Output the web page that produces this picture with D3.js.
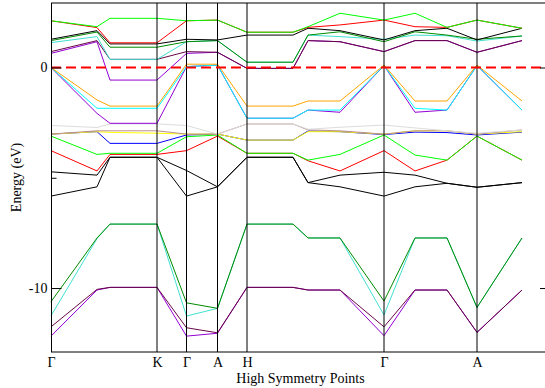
<!DOCTYPE html>
<html>
<head>
<meta charset="utf-8">
<script src="https://cdn.jsdelivr.net/npm/d3@7"></script>
<style>
  body { margin: 0; background: #fff; }
  svg { display: block; font-family: "Liberation Serif", "Times New Roman", serif; }
</style>
</head>
<body>
<svg width="545" height="388"></svg>
<script>
// k-path distances (arbitrary units) of the sampled points
const kPath = [0, 0.46, 0.59, 1.06, 1.355, 1.665, 1.96, 2.42, 2.57, 2.89, 3.33, 3.64, 3.96, 4.26, 4.71]
const symPos = [0, 1.06, 1.355, 1.665, 1.96, 3.33, 4.26]
const symLabels = ['Γ', 'K', 'Γ', 'A', 'H', 'Γ', 'A']
const yMajor = [0, -10]
const yMinor = [-5]

// band energies (eV), lowest band first
const band01 = [-12.18, -10.09, -9.97, -9.97, -12.18, -12.05, -9.97, -9.97, -10.09, -10.09, -12.16, -10.09, -10.09, -12.01, -10.09]
const band02 = [-11.76, -10.06, -9.97, -9.97, -11.80, -12.03, -9.97, -9.97, -10.09, -10.09, -11.76, -10.09, -10.09, -12.01, -10.09]
const band03 = [-11.26, -7.76, -7.10, -7.10, -11.27, -10.92, -7.10, -7.10, -7.73, -7.73, -11.22, -7.73, -7.73, -10.88, -7.73]
const band04 = [-10.62, -7.73, -7.10, -7.10, -10.67, -10.92, -7.10, -7.10, -7.73, -7.73, -10.59, -7.73, -7.73, -10.88, -7.73]
const band05 = [-5.83, -5.41, -4.07, -4.07, -5.83, -5.41, -4.07, -4.07, -5.22, -5.41, -5.83, -5.41, -5.25, -5.43, -5.22]
const band06 = [-4.73, -4.88, -4.07, -4.07, -4.67, -5.41, -4.07, -4.07, -5.22, -4.88, -4.75, -4.88, -5.25, -5.43, -5.22]
const band07 = [-3.77, -4.69, -3.94, -3.94, -3.77, -3.11, -3.89, -3.89, -4.23, -4.69, -3.77, -4.69, -4.20, -3.11, -4.20]
const band08 = [-3.11, -3.94, -3.89, -3.89, -3.14, -3.06, -3.89, -3.89, -4.20, -3.94, -3.06, -3.97, -4.20, -3.11, -4.20]
const band09 = [-3.02, -2.91, -3.44, -3.44, -3.06, -3.02, -3.29, -3.29, -2.88, -2.91, -3.04, -2.93, -2.95, -3.06, -2.93]
const band10 = [-3.02, -2.91, -2.94, -2.98, -3.02, -3.02, -3.29, -3.29, -2.91, -2.91, -3.02, -2.87, -2.87, -3.02, -2.91]
const band11 = [-3.02, -2.87, -2.87, -2.87, -3.02, -3.02, -2.56, -2.56, -2.83, -2.87, -3.02, -2.87, -2.87, -3.02, -2.83]
const band12 = [-2.63, -2.72, -2.56, -2.56, -2.63, -3.02, -2.56, -2.56, -2.80, -2.71, -2.61, -2.74, -2.87, -2.98, -2.83]
const band13 = [0, -2.08, -2.53, -2.53, 0.04, 0.11, -2.30, -2.30, -1.93, -2.03, 0.09, -2.03, -1.93, 0.09, -1.93]
const band14 = [0, -1.85, -1.85, -1.85, 0.04, 0.11, -2.30, -2.30, -1.93, -1.93, 0.09, -1.85, -1.93, 0.09, -1.93]
const band15 = [0, -1.47, -1.75, -1.75, 0.15, 0.15, -1.75, -1.75, -1.52, -1.52, 0.11, -1.52, -1.52, 0.11, -1.52]
const band16 = [0.64, 1.17, -0.57, -0.57, 0.64, 0.69, -0.04, -0.04, 1.22, 1.17, 0.72, 1.22, 1.22, 0.69, 1.22]
const band17 = [0.72, 1.22, 0.37, 0.37, 0.72, 0.69, -0.04, -0.04, 1.22, 1.17, 0.72, 1.22, 1.22, 0.69, 1.22]
const band18 = [1.13, 1.40, 0.37, 0.37, 1.17, 1.22, 0.24, 0.24, 1.47, 1.40, 1.28, 1.47, 1.44, 1.20, 1.43]
const band19 = [1.22, 1.61, 0.92, 0.92, 1.17, 1.22, 0.24, 0.24, 1.47, 1.62, 1.17, 1.62, 1.47, 1.28, 1.43]
const band20 = [1.28, 1.67, 1.07, 1.07, 1.28, 1.25, 1.47, 1.47, 1.78, 1.67, 1.25, 1.67, 1.78, 1.25, 1.78]
const band21 = [2.12, 1.81, 1.12, 1.12, 2.12, 2.15, 1.60, 1.60, 1.82, 1.93, 2.15, 1.85, 1.82, 2.15, 1.78]
const band22 = [2.12, 1.85, 2.23, 2.23, 2.12, 2.15, 1.60, 1.60, 1.85, 2.46, 2.15, 2.46, 1.82, 2.15, 1.78]

const bands = [band01, band02, band03, band04, band05, band06, band07, band08, band09, band10, band11,
    band12, band13, band14, band15, band16, band17, band18, band19, band20, band21, band22]
const bandColors = ['#9400d3', '#670748', '#40e0d0', '#008b00', '#000000', '#000000', '#ff0000', '#00ff00',
    '#0000ff', '#ffff00', '#bc8f8f', '#dcdcdc', '#9400d3', '#00ffff', '#ffa500', '#9400d3', '#670748',
    '#40e0d0', '#008b00', '#000000', '#ff0000', '#00ff00']

const mLeft = 51, mRight = 550, mTop = 3, mBottom = 352

const svg = d3.select('svg')
const x = d3.scaleLinear().domain([0, 4.99]).range([mLeft, mRight])
const y = d3.scaleLinear().domain([-12.9, 2.925]).range([mBottom, mTop])

const line = d3.line()
    .x((d, i) => x(kPath[i]))
    .y(d => y(d))

const plot = svg.append('g').attr('class', 'bands')
plot.selectAll('path')
    .data(bands)
    .enter()
    .append('path')
    .attr('d', d => line(d))
    .attr('fill', 'none')
    .attr('stroke', (d, i) => bandColors[i])
    .attr('stroke-width', 1)

// high symmetry lines
svg.append('g')
    .selectAll('line')
    .data(symPos.slice(1))
    .enter()
    .append('line')
    .attr('x1', d => x(d)).attr('x2', d => x(d))
    .attr('y1', mTop).attr('y2', mBottom)
    .attr('stroke', '#000')
    .attr('stroke-width', 1)

// fermi level
svg.append('line')
    .attr('x1', mLeft).attr('x2', mRight)
    .attr('y1', y(0)).attr('y2', y(0))
    .attr('stroke', '#ff0000')
    .attr('stroke-width', 2)
    .attr('stroke-dasharray', '10,5')

// frame
svg.append('rect')
    .attr('x', mLeft + 0.5).attr('y', mTop)
    .attr('width', mRight - mLeft).attr('height', mBottom - mTop)
    .attr('fill', 'none')
    .attr('stroke', '#000')
    .attr('stroke-width', 1)

const yAxis = svg.append('g').attr('transform', `translate(${mLeft + 0.5},0)`)
    .call(d3.axisLeft(y).tickValues(yMajor).tickSize(-10).tickPadding(4).tickFormat(d3.format('d')))
svg.append('g').attr('transform', `translate(${mLeft + 0.5},0)`)
    .call(d3.axisLeft(y).tickValues(yMinor).tickSize(-5).tickFormat(''))
svg.append('g').attr('transform', `translate(${mRight},0)`)
    .call(d3.axisRight(y).tickValues(yMajor).tickSize(-10).tickFormat(''))
svg.append('g').attr('transform', `translate(${mRight},0)`)
    .call(d3.axisRight(y).tickValues(yMinor).tickSize(-5).tickFormat(''))
svg.selectAll('.domain').remove()
yAxis.selectAll('.tick text').text(d => String(d))

const xAxis = svg.append('g').attr('transform', `translate(0,${mBottom})`)
    .call(d3.axisBottom(x).tickValues(symPos).tickSize(0).tickPadding(5).tickFormat((d, i) => symLabels[i]))
xAxis.select('.domain').remove()

svg.selectAll('.tick text')
    .attr('font-family', '"Liberation Serif", "Times New Roman", serif')
    .attr('font-size', 14)
    .attr('fill', '#000')

svg.append('text')
    .attr('x', (mLeft + mRight) / 2)
    .attr('y', 382.5)
    .attr('text-anchor', 'middle')
    .attr('font-size', 14)
    .text('High Symmetry Points')

svg.append('text')
    .attr('transform', `translate(20.5,${(mTop + mBottom) / 2}) rotate(-90)`)
    .attr('text-anchor', 'middle')
    .attr('font-size', 14)
    .text('Energy (eV)')
</script>
</body>
</html>
